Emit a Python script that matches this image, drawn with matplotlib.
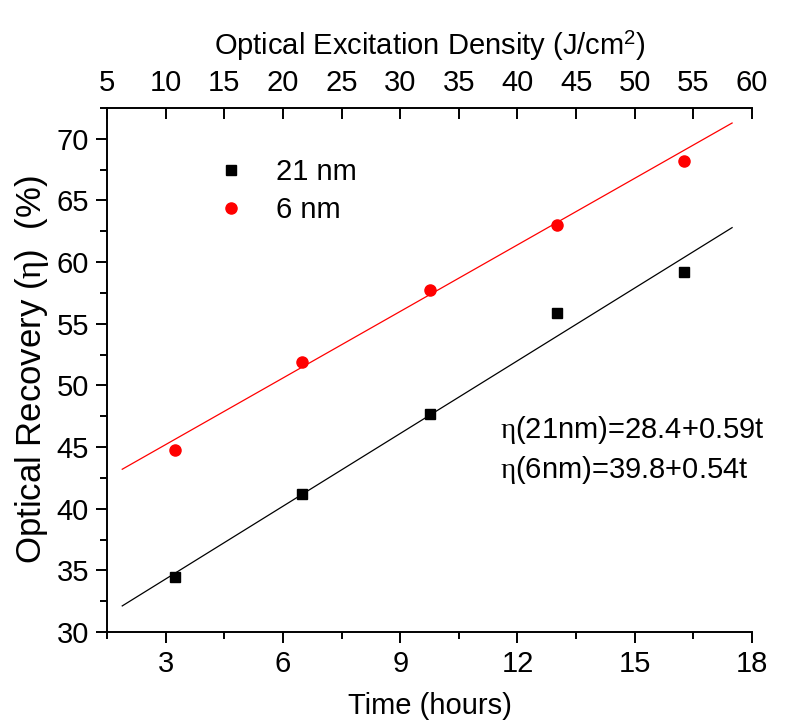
import matplotlib
matplotlib.use("Agg")
import matplotlib.pyplot as plt
from matplotlib.ticker import MultipleLocator
import numpy as np

# ---- data ----
time_hours = [3.25, 6.5, 9.75, 13.0, 16.25]
recovery_21nm = [34.5, 41.2, 47.7, 55.9, 59.2]
recovery_6nm = [44.8, 51.9, 57.7, 63.0, 68.2]
series_labels = ["21 nm", "6 nm"]
# linear fits vs. excitation density (J/cm^2)
fit_intercepts = [28.4, 39.8]
fit_slopes = [0.59, 0.54]
fit_density_range = [6.3, 58.3]
density_per_hour = 10.0 / 3.0
bottom_ticks = [3, 6, 9, 12, 15, 18]
top_ticks = [5, 10, 15, 20, 25, 30, 35, 40, 45, 50, 55, 60]
y_ticks = [30, 35, 40, 45, 50, 55, 60, 65, 70]

plt.rcParams['font.family'] = ['Liberation Sans', 'DejaVu Sans']
plt.rcParams['mathtext.fontset'] = 'custom'
plt.rcParams['mathtext.rm'] = 'Liberation Sans'
plt.rcParams['mathtext.it'] = 'Liberation Serif'
plt.rcParams['mathtext.bf'] = 'Liberation Serif:bold'

FS = 21

fig = plt.figure(figsize=(7.85, 7.2), dpi=100)
ax = fig.add_axes([0.1363, 0.1222, 0.958 - 0.1363, 0.85 - 0.1222])

ax.plot(time_hours, recovery_21nm, ls='none', marker='s', ms=7, color='black',
        label=series_labels[0])
ax.plot(time_hours, recovery_6nm, ls='none', marker='o', ms=8, color='red',
        label=series_labels[1])

d = np.array(fit_density_range)
ax.plot(d / density_per_hour, fit_intercepts[0] + fit_slopes[0] * d, color='black', lw=0.9)
ax.plot(d / density_per_hour, fit_intercepts[1] + fit_slopes[1] * d, color='red', lw=0.9)

ax.set_xlim(1.5, 18)
ax.set_ylim(30, 72.5)
ax.set_xticks(bottom_ticks)
ax.set_yticks(y_ticks)
ax.xaxis.set_minor_locator(MultipleLocator(1.5))
ax.yaxis.set_minor_locator(MultipleLocator(2.5))
ax.tick_params(axis='both', which='major', direction='out', length=8, width=1.4,
               labelsize=FS, pad=5)
ax.tick_params(axis='both', which='minor', direction='out', length=5, width=1.4)
ax.spines['right'].set_visible(False)
ax.spines['top'].set_visible(False)
for s in ('left', 'bottom'):
    ax.spines[s].set_linewidth(1.4)

ax.set_xlabel("Time (hours)", fontsize=FS, labelpad=10)
ax.set_ylabel(r"Optical Recovery ($\eta$)  (%)", fontsize=25, labelpad=4)

sec = ax.secondary_xaxis('top', functions=(lambda t: t * density_per_hour,
                                            lambda x: x / density_per_hour))
sec.set_xticks(top_ticks)
sec.spines['top'].set_linewidth(1.4)
sec.tick_params(axis='x', which='major', direction='in', length=8, width=1.4,
                labelsize=FS, pad=8)
sec.set_xlabel(r"Optical Excitation Density (J/cm$^{2}$)", fontsize=FS, labelpad=10)

leg = ax.legend(loc='upper left', bbox_to_anchor=(0.118, 0.955), frameon=False,
                fontsize=FS, handletextpad=0.8, labelspacing=0.35, handlelength=1.5,
                markerscale=1.0)

ax.text(11.55, 46.4, r"$\eta$(21nm)=28.4+0.59t", fontsize=21, va='center', ha='left')
ax.text(11.55, 43.1, r"$\eta$(6nm)=39.8+0.54t", fontsize=21, va='center', ha='left')

fig.savefig("out.png", dpi=100)
